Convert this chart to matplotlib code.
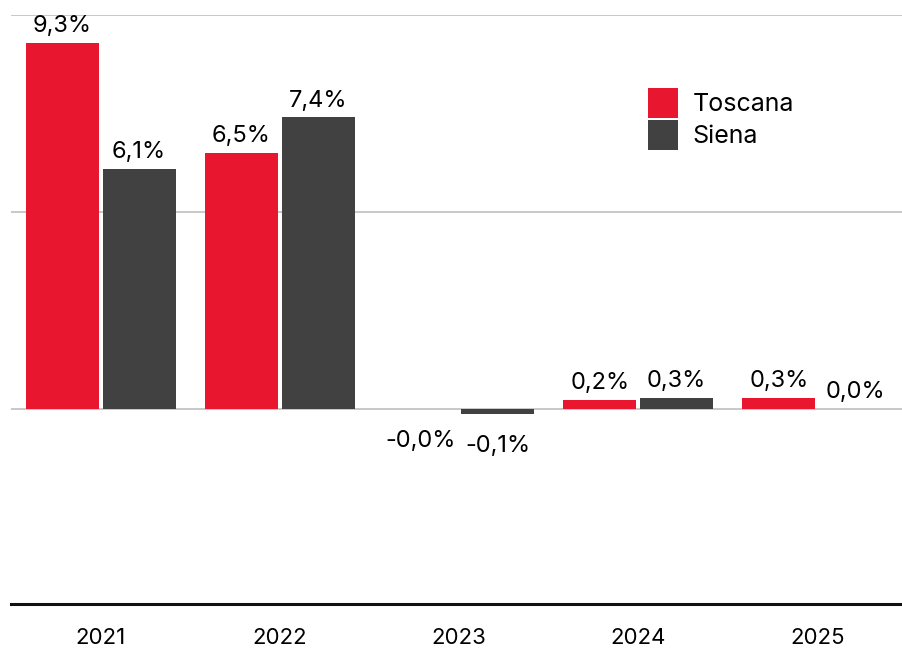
import matplotlib.pyplot as plt
import numpy as np

plt.rcParams['font.family'] = ['Inter', 'DejaVu Sans']

years = ['2021', '2022', '2023', '2024', '2025']
toscana = [9.3, 6.5, -0.004, 0.23, 0.28]
siena = [6.1, 7.4, -0.14, 0.28, 0.01]

red = '#e8162f'
dark = '#414141'

fig = plt.figure(figsize=(9.03, 6.5), dpi=100)
ax = fig.add_axes([11 / 903, 1 - 604 / 650, 896 / 903, (604 - 15) / 650])

x = np.arange(len(years))
w = 0.407
gap = 0.011

b1 = ax.bar(x - gap - w / 2, toscana, w, color=red, label='Toscana', zorder=3)
b2 = ax.bar(x + gap + w / 2, siena, w, color=dark, label='Siena', zorder=3)

def fmt(v):
  return f"{v:.1f}%".replace('.', ',')

# positive labels sit close to the bar, negative ones a bit lower
for bars, vals in [(b1, toscana), (b2, siena)]:
  ax.bar_label(bars, labels=[fmt(v) if v >= 0 else '' for v in vals], padding=4, fontsize=17)
  ax.bar_label(bars, labels=[fmt(v) if v < 0 else '' for v in vals], padding=15, fontsize=17)

ax.set_xlim(-0.5, 4.5)
ax.set_ylim(-4.95, 10)
ax.set_yticks([0, 5, 10])
ax.yaxis.grid(True, color='#c4c4c4', linewidth=1.3, zorder=0)
ax.tick_params(axis='y', length=0, labelleft=False)
ax.set_xticks(x)
ax.set_xticklabels(years, fontsize=16)
ax.tick_params(axis='x', length=0, pad=17)

for s in ['top', 'right', 'left']:
  ax.spines[s].set_visible(False)
ax.spines['bottom'].set_linewidth(2.2)
ax.spines['bottom'].set_color('#111111')

ax.legend(loc='upper left', bbox_to_anchor=(0.686, 0.915), frameon=False, fontsize=18,
          handlelength=1.2, handleheight=1.47, handletextpad=0.58, labelspacing=0.1)

fig.savefig('out.png', dpi=100)
